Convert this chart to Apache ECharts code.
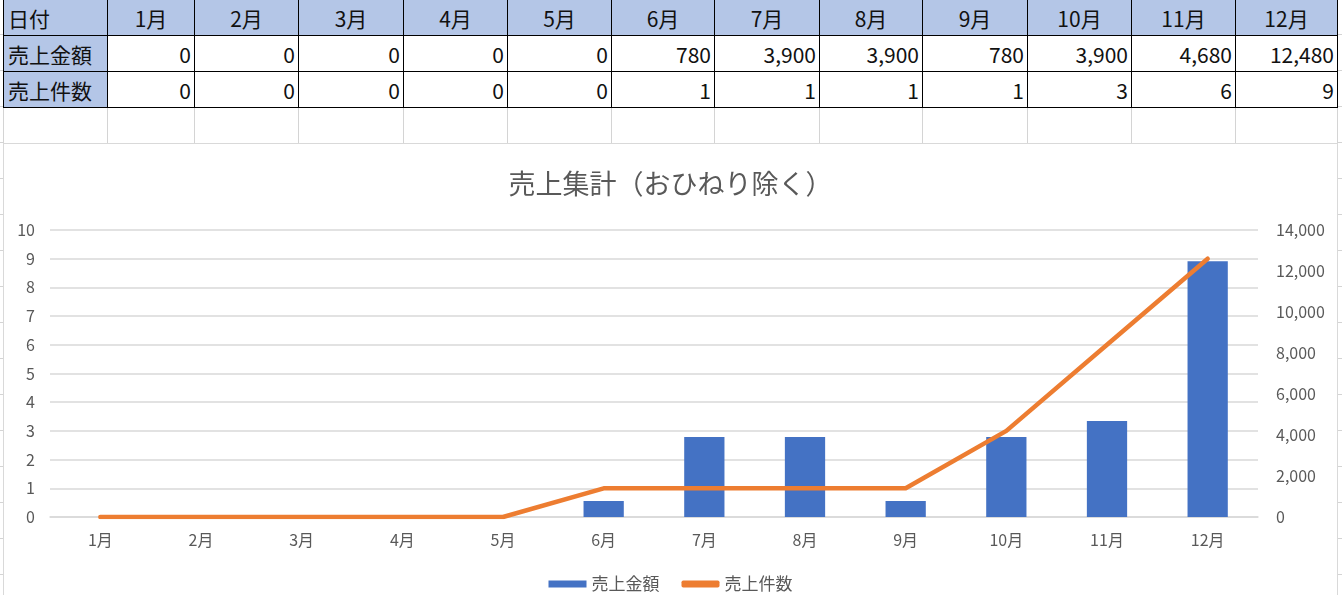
<!DOCTYPE html>
<html>
<head>
<meta charset="utf-8">
<script src="https://cdn.jsdelivr.net/npm/echarts@6/dist/echarts.min.js"></script>
<style>
  html, body { margin:0; padding:0; width:1342px; height:595px; overflow:hidden; background:#fff; }
  body {
    position:relative;
    background-image: repeating-linear-gradient(to bottom, transparent 0px, transparent 34px, #d4d4d4 34px, #d4d4d4 35px, transparent 35px, transparent 36px);
    font-family: "Noto Sans CJK JP", sans-serif;
  }
  #sheet { position:absolute; left:3px; top:-1px; border-collapse:collapse; table-layout:fixed; font-size:21px; color:#111; background:#fff; }
  #sheet td { height:35px; padding:0; border:1px solid #000; white-space:nowrap; overflow:hidden; line-height:34px; }
  #sheet tr.hdr td { background:#B4C6E7; text-align:center; }
  #sheet tr td.lab { background:#B4C6E7; text-align:left; padding-left:4px; }
  #sheet td.num { text-align:right; padding-right:3px; }
  #sheet tr.empty td { border:1px solid #d4d4d4; border-top:1px solid #000; background:#fff; }
  #chartBox { position:absolute; left:3px; top:143px; width:1333px; height:470px; border:1px solid #d9d9d9; background:#fff; }
  #chart { width:1333px; height:470px; }
</style>
</head>
<body>
<table id="sheet"></table>
<div id="chartBox"><div id="chart"></div></div>
<script>
const months = ['1月','2月','3月','4月','5月','6月','7月','8月','9月','10月','11月','12月'];
const salesAmount = [0, 0, 0, 0, 0, 780, 3900, 3900, 780, 3900, 4680, 12480];
const salesCount = [0, 0, 0, 0, 0, 1, 1, 1, 1, 3, 6, 9];
const rowLabels = ['日付', '売上金額', '売上件数'];
const leftTicks = { min: 0, max: 10, interval: 1 };
const rightTicks = { min: 0, max: 14000, interval: 2000 };

// build spreadsheet table from the arrays
const colWidths = [104, 87, 104, 105, 104, 104, 103, 105, 103, 105, 104, 104, 102];
const fmt = v => Number(v).toLocaleString('en-US');
const tbl = document.getElementById('sheet');
let html = '<colgroup>' + colWidths.map(w => '<col style="width:' + w + 'px">').join('') + '</colgroup>';
html += '<tr class="hdr"><td class="lab">' + rowLabels[0] + '</td>' + months.map(m => '<td>' + m + '</td>').join('') + '</tr>';
html += '<tr><td class="lab">' + rowLabels[1] + '</td>' + salesAmount.map(v => '<td class="num">' + fmt(v) + '</td>').join('') + '</tr>';
html += '<tr><td class="lab">' + rowLabels[2] + '</td>' + salesCount.map(v => '<td class="num">' + fmt(v) + '</td>').join('') + '</tr>';
html += '<tr class="empty">' + colWidths.map(() => '<td></td>').join('') + '</tr>';
tbl.innerHTML = html;

const chart = echarts.init(document.getElementById('chart'), null, { renderer: 'canvas' });
const FONT = '"Noto Sans CJK JP", sans-serif';
const GREY = '#595959';
chart.setOption({
  animation: false,
  backgroundColor: '#fff',
  title: {
    text: '売上集計（おひねり除く）',
    left: 'center',
    top: 19,
    textStyle: { fontFamily: FONT, fontSize: 27, fontWeight: 'normal', color: GREY, lineHeight: 32 }
  },
  legend: {
    left: 'center',
    top: 425,
    itemWidth: 38,
    itemHeight: 7,
    itemGap: 22,
    textStyle: { fontFamily: FONT, fontSize: 17, color: GREY, lineHeight: 20 },
    data: [
      { name: '売上金額', icon: 'rect' },
      { name: '売上件数', icon: 'roundRect' }
    ]
  },
  grid: { left: 46, top: 86, width: 1208, height: 287 },
  xAxis: {
    type: 'category',
    data: months,
    boundaryGap: true,
    axisLine: { lineStyle: { color: '#d9d9d9', width: 1.5 } },
    axisTick: { show: false },
    axisLabel: { fontFamily: FONT, fontSize: 16, color: GREY, margin: 15 }
  },
  yAxis: [
    {
      type: 'value',
      min: leftTicks.min, max: leftTicks.max, interval: leftTicks.interval,
      axisLine: { show: false },
      axisTick: { show: false },
      splitLine: { lineStyle: { color: '#d9d9d9', width: 1.5 } },
      axisLabel: { fontFamily: FONT, fontSize: 16, color: GREY, margin: 15 }
    },
    {
      type: 'value',
      position: 'right',
      min: rightTicks.min, max: rightTicks.max, interval: rightTicks.interval,
      axisLine: { show: false },
      axisTick: { show: false },
      splitLine: { show: false },
      axisLabel: { fontFamily: FONT, fontSize: 16, color: GREY, margin: 18, formatter: v => fmt(v) }
    }
  ],
  series: [
    {
      name: '売上金額',
      type: 'bar',
      yAxisIndex: 1,
      data: salesAmount,
      barWidth: '40%',
      itemStyle: { color: '#4472C4' },
      z: 2
    },
    {
      name: '売上件数',
      type: 'line',
      yAxisIndex: 0,
      data: salesCount,
      showSymbol: false,
      symbol: 'none',
      lineStyle: { color: '#ED7D31', width: 4.5, cap: 'round', join: 'round' },
      itemStyle: { color: '#ED7D31' },
      z: 3
    }
  ]
});
</script>
</body>
</html>
